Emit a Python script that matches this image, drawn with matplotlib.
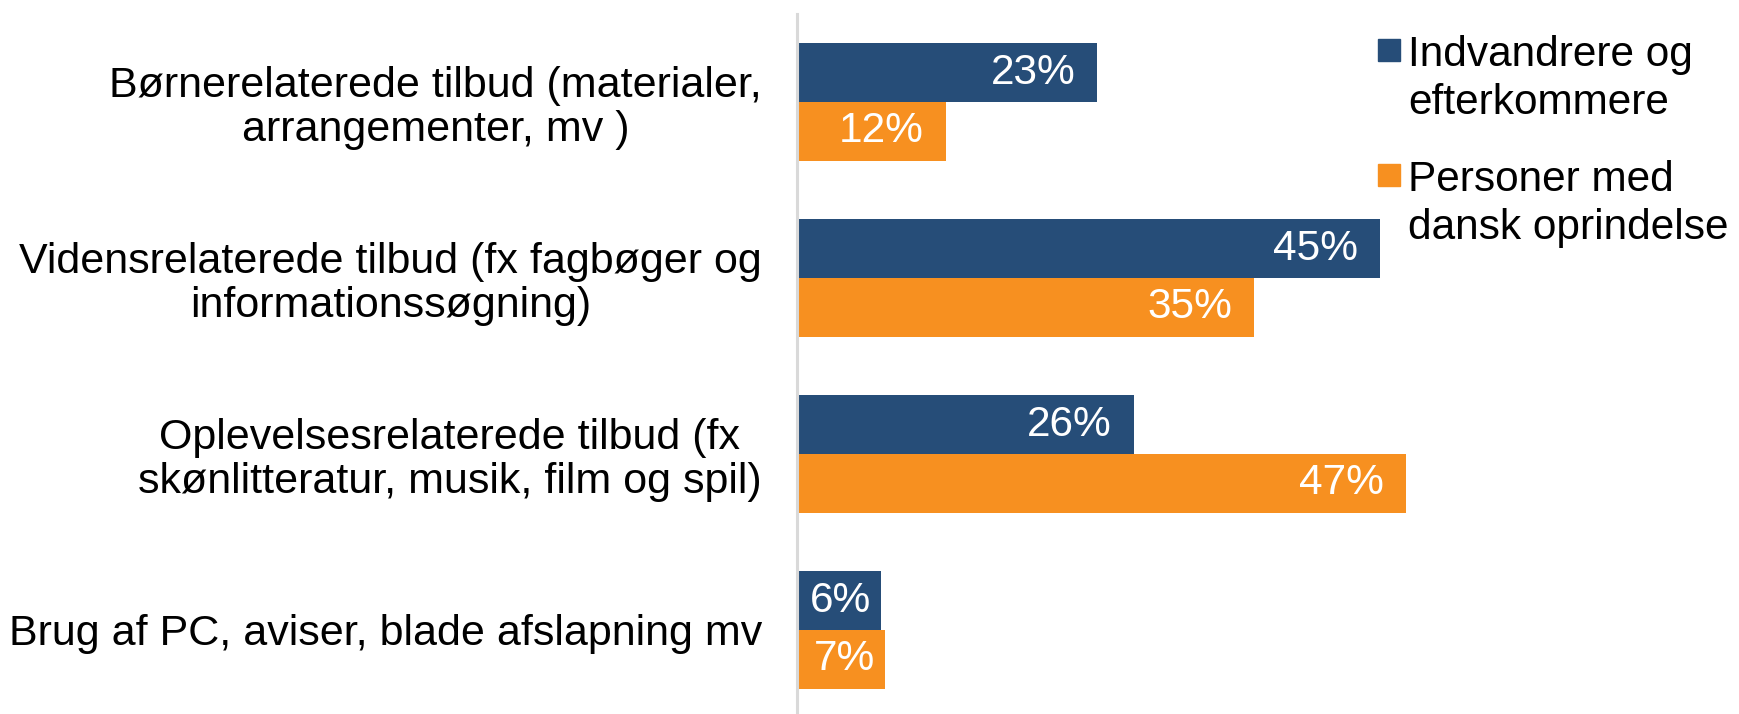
import matplotlib
matplotlib.use("Agg")
import matplotlib.pyplot as plt
from matplotlib.patches import Rectangle

plt.rcParams['font.family'] = ['Liberation Sans', 'DejaVu Sans']

categories = [
    "Børnerelaterede tilbud (materialer,\narrangementer, mv )",
    "Vidensrelaterede tilbud (fx fagbøger og\ninformationssøgning)",
    "Oplevelsesrelaterede tilbud (fx\nskønlitteratur, musik, film og spil)",
    "Brug af PC, aviser, blade afslapning mv",
]
series_names = ["Indvandrere og\nefterkommere", "Personer med\ndansk oprindelse"]
indvandrere = [0.232, 0.45, 0.26, 0.065]
danske = [0.115, 0.353, 0.47, 0.068]
indvandrere_labels = ["23%", "45%", "26%", "6%"]
danske_labels = ["12%", "35%", "47%", "7%"]

blue = '#264D78'
orange = '#F79020'
fs = 30.5

fig = plt.figure(figsize=(17.39, 7.14), dpi=100)
ax = fig.add_axes([796.5 / 1739, -4 / 714, 908 / 1739, 704 / 714])

pos = list(range(len(categories)))
h = 1 / 3
ax.barh([p - h / 2 for p in pos], indvandrere, height=h, color=blue)
ax.barh([p + h / 2 for p in pos], danske, height=h, color=orange)

# data labels, inside end
for vals, labels, off in ((indvandrere, indvandrere_labels, -h / 2),
                          (danske, danske_labels, h / 2)):
    for p, v, lab in zip(pos, vals, labels):
        pad = 16 if v >= 0.1 else 7
        ax.annotate(lab, (v, p + off), xytext=(-pad, 0),
                    textcoords='offset points', ha='right', va='center',
                    color='white', fontsize=fs)

ax.set_xlim(0, 0.70)
ax.set_ylim(3.5, -0.5)
ax.set_yticks(pos)
ax.set_yticklabels(categories, fontsize=31, ha='right', multialignment='center',
                   linespacing=1.12)
ax.tick_params(axis='y', length=0, pad=25)
ax.set_xticks([])
for s in ['top', 'right', 'bottom']:
    ax.spines[s].set_visible(False)
ax.spines['left'].set_color('#D9D9D9')
ax.spines['left'].set_linewidth(2.2)

# legend, square aligned with first line of each entry
W, H = 1739, 714
for i, (name, col) in enumerate(zip(series_names, [blue, orange])):
    top = 39 + i * 125
    fig.patches.append(Rectangle((1378 / W, 1 - (top + 22) / H), 22 / W, 22 / H,
                                 transform=fig.transFigure, color=col))
    fig.text(1408 / W, 1 - (top - 4) / H, name, fontsize=fs, va='top', ha='left',
             linespacing=1.27)

fig.savefig('out.png', dpi=100)
